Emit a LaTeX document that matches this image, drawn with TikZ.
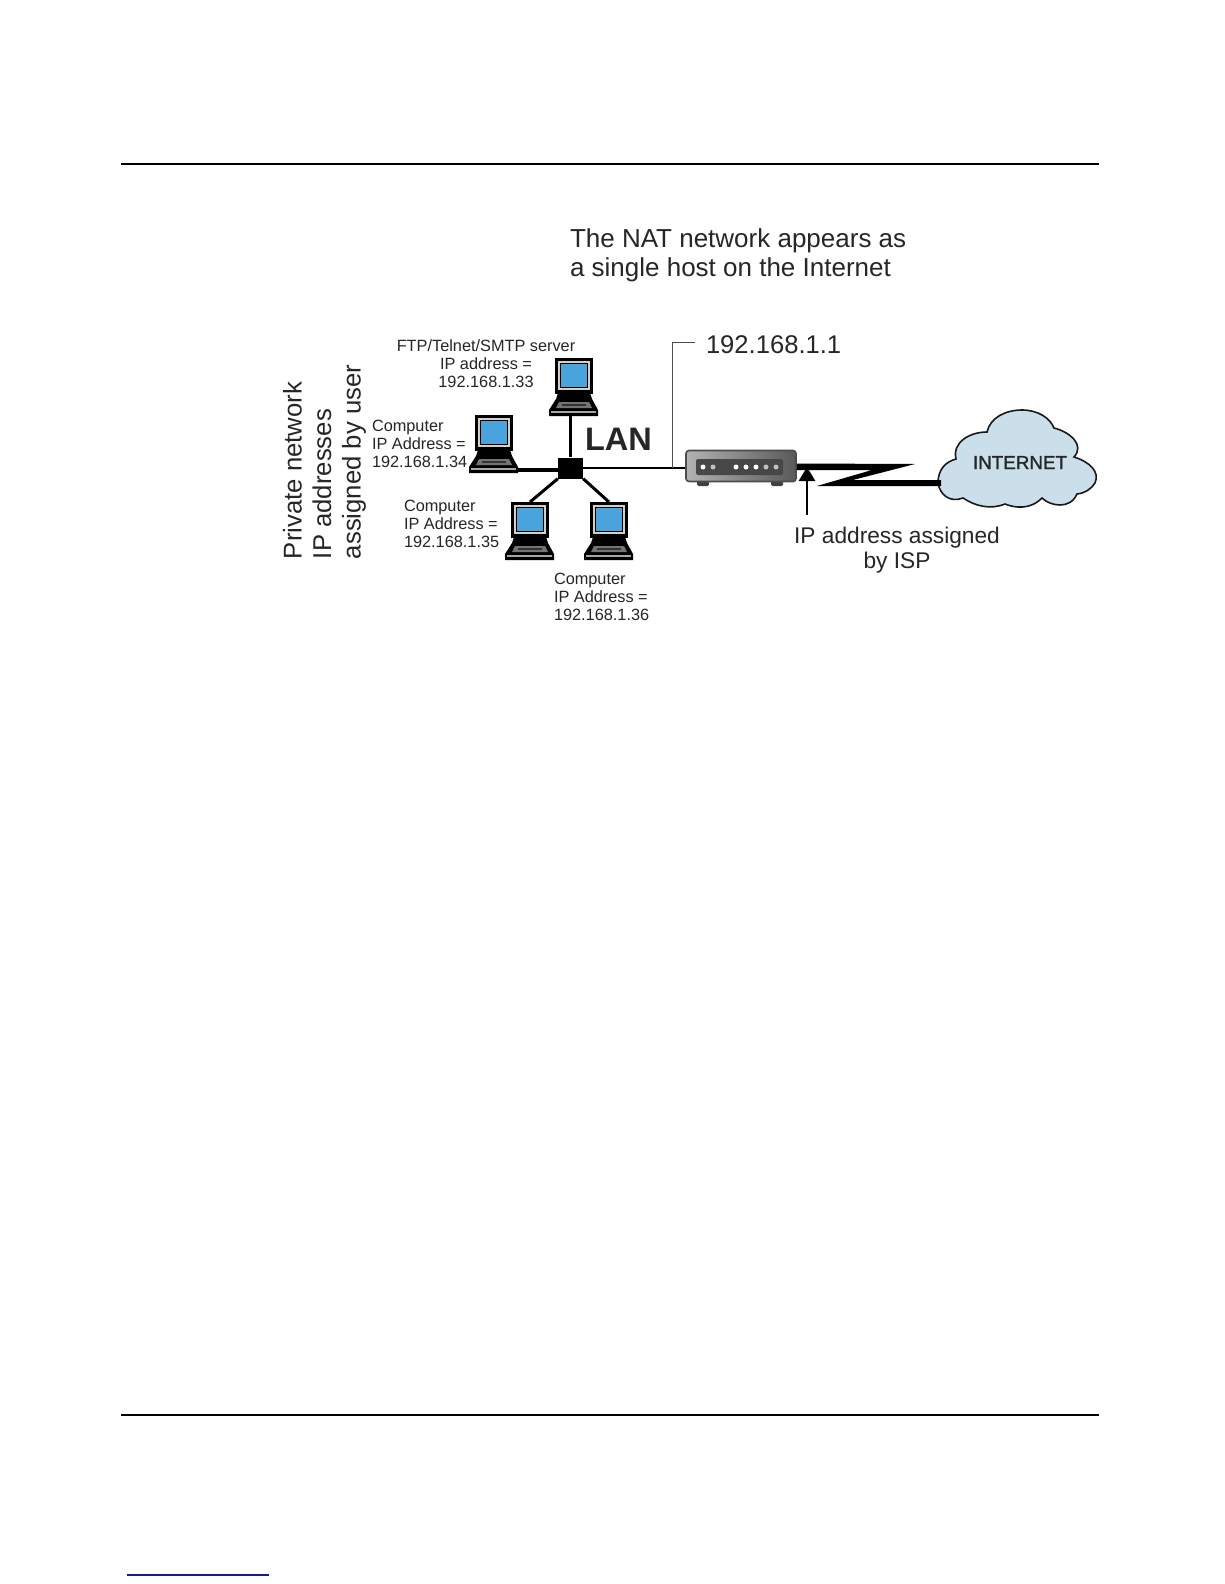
\documentclass[tikz,border=0pt]{standalone}
\usepackage{fontspec}
\setmainfont{Liberation Sans}
\newfontfamily\inetfont[FakeBold=1.3]{Liberation Sans}
\usetikzlibrary{arrows.meta,calc}
\definecolor{inkc}{HTML}{262626}
\definecolor{screenc}{HTML}{4AA3DC}
\definecolor{framec}{HTML}{D8CFC0}
\definecolor{cloudc}{HTML}{CBDFEA}
\definecolor{linkc}{HTML}{1A1A8C}
\tikzset{
  x=1pt,y=-1pt,
  rulec/.style={black,line cap=butt},
  wire/.style={black,line width=3.6pt},
  lbl/.style={text=inkc,inner sep=0pt,outer sep=0pt,align=left,anchor=base west},
  small/.style={lbl,font=\fontsize{16.3}{18}\selectfont},
  big/.style={lbl,font=\fontsize{26}{28.5}\selectfont},
  led/.style={circle,inner sep=0pt,minimum size=5pt,fill=#1},
  laptop/.pic={
    \fill[black] (0,0) rectangle (38,36);
    \fill[framec] (3,3) rectangle (35,32);
    \fill[black] (5,5) rectangle (33,30);
    \fill[screenc] (6,6) rectangle (32,29);
    \fill[black] (3,35) -- (35,35) -- (37,41) -- (43,52) -- (43,58) -- (-6,58) -- (-6,52) -- (1,41) -- cycle;
    \fill[black!55] (4,44) -- (34,44) -- (37,50) -- (1,50) -- cycle;
    \fill[black!80] (7,46) rectangle (31,48);
    \fill[black!35] (-4,53) rectangle (41,55);
    \coordinate (-s) at (15.5,58);
    \coordinate (-e) at (43,55);
    \coordinate (-n) at (19,0);
  },
}
\begin{document}
\begin{tikzpicture}
\useasboundingbox[fill=white] (0,0) rectangle (1224,1584);
% page rules
\coordinate (topL) at (121,164); \coordinate (topR) at (1099,164);
\coordinate (botL) at (121,1415); \coordinate (botR) at (1099,1415);
\coordinate (lnkL) at (127,1575); \coordinate (lnkR) at (269,1575);
\draw[rulec,line width=1.4pt] (topL) -- (topR);
\draw[rulec,line width=2.2pt] (botL) -- (botR);
\draw[linkc,line width=1.2pt] (lnkL) -- (lnkR);

% headline
\node[big] (headline) at (570,276) {The NAT network appears as\\a single host on the Internet};
% side label
\node[lbl,font=\fontsize{25.7}{29.5}\selectfont,rotate=90,anchor=north west] (side) at (283,559) {Private network\\IP addresses\\assigned by user};

% computers
\pic (pcA) at (555,358) {laptop};
\pic (pcB) at (475,415) {laptop};
\pic (pcC) at (511,502) {laptop};
\pic (pcD) at (590,502) {laptop};

% hub
\node[fill=black,inner sep=0pt,minimum width=25pt,minimum height=21pt] (hub) at (570.5,468) {};

% router
\fill[black!75,rounded corners=1.5pt] (697,480) rectangle (709,486);
\fill[black!75,rounded corners=1.5pt] (771,480) rectangle (783,486);
\node[draw=black!70,line width=1.6pt,rounded corners=3pt,left color=black!30,right color=black!65,minimum width=110pt,minimum height=31pt,inner sep=0pt] (router) at (741,466) {};
\node[fill=black!72,rounded corners=1.5pt,minimum width=87pt,minimum height=16pt,inner sep=0pt] (panel) at (739.5,467) {};
\foreach \lx/\lc in {703/white,713/black!25,736/white,746/white,756/white,766/black!25,776/black!25}
  \node[led=\lc] at (\lx,467) {};

% cloud
\coordinate (cloudport) at (941,483);
\filldraw[fill=cloudc,draw=black!90,line width=1.6pt]
  (938,483) .. controls (938,470) and (945,462) .. (956,459)
  .. controls (952,442) and (970,432) .. (987,432)
  .. controls (990,418) and (1005,410) .. (1022,410)
  .. controls (1038,410) and (1050,418) .. (1054,428)
  .. controls (1070,432) and (1085,445) .. (1074,457)
  .. controls (1090,462) and (1100,472) .. (1095,483)
  .. controls (1090,490) and (1085,493) .. (1077,494)
  .. controls (1070,510) and (1050,506) .. (1042,498)
  .. controls (1030,510) and (1015,508) .. (1005,504)
  .. controls (990,510) and (975,506) .. (963,498)
  .. controls (950,503) and (940,495) .. (938,483) -- cycle;

% connectors
\draw[wire] (pcA-s) -- (hub.north -| pcA-s);
\draw[wire] (pcB-e) -- (hub.west |- pcB-e);
\draw[wire,line width=3pt] (pcC-n) -- (hub.south west);
\draw[wire,line width=3pt] (pcD-n) -- (hub.south east);
\draw[black,line width=2.6pt] (hub.east) -- (hub.east -| router.west);
\coordinate (tap) at (672,468);
\coordinate (leaderend) at (695,342);
\draw[black!70,line width=1pt] (tap) |- (leaderend);

% WAN link
\fill[black] ($(router.east)+(0,-2.5)$) -- (915,464) -- (853,480) -- ($(cloudport)+(0,-3)$) -- ($(cloudport)+(0,3)$) -- (817,486) -- (872,470) -- ($(router.east)+(0,4)$) -- cycle;

% ISP arrow
\coordinate (arrowtail) at (807,515);
\coordinate (arrowtip) at (807,467);
\draw[black,line width=2.8pt,-{Triangle[length=14pt,width=16pt]}] (arrowtail) -- (arrowtip);

% labels
\node[small,align=center,anchor=base] (lblA) at (486,387) {FTP/Telnet/SMTP server\\IP address =\\192.168.1.33};
\node[small] (lblB) at (372,467) {Computer\\IP Address =\\192.168.1.34};
\node[small] (lblC) at (404,547) {Computer\\IP Address =\\192.168.1.35};
\node[small] (lblD) at (554,620) {Computer\\IP Address =\\192.168.1.36};
\node[lbl,font=\bfseries\fontsize{32.5}{36}\selectfont] (lan) at (585,450) {LAN};
\node[lbl,font=\fontsize{25.6}{28}\selectfont] (gwip) at (706,353) {192.168.1.1};
\node[lbl,font=\inetfont\fontsize{18.8}{22}\selectfont] (inet) at (973,469) {INTERNET};
\node[lbl,align=center,anchor=base,font=\fontsize{22.7}{25}\selectfont] (isp) at (897,568) {IP address assigned\\by ISP};
\end{tikzpicture}
\end{document}
